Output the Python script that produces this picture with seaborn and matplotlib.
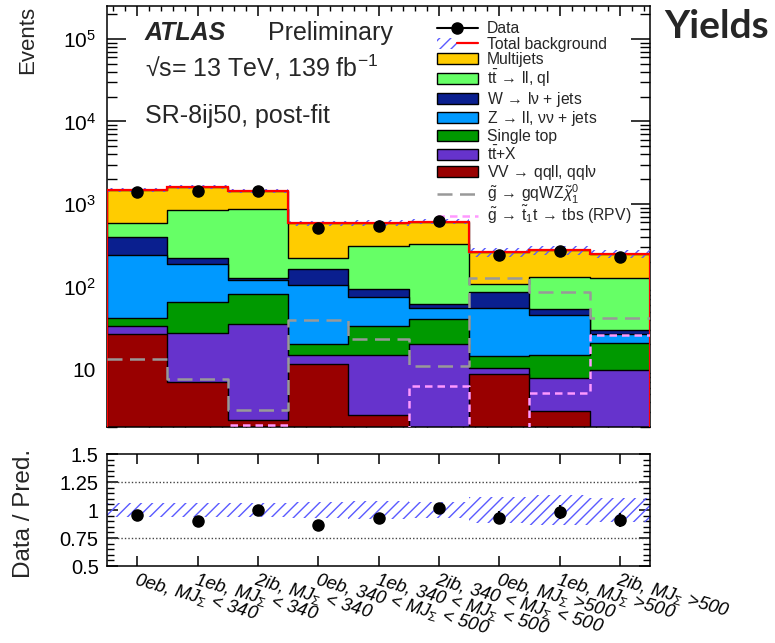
import numpy as np
import pandas as pd
import matplotlib
matplotlib.use("Agg")
import matplotlib.pyplot as plt
import seaborn as sns
from matplotlib.patches import Patch
from matplotlib.lines import Line2D
from matplotlib.ticker import FixedLocator, MultipleLocator, NullFormatter
from matplotlib.legend_handler import HandlerTuple

# ---------------- data ----------------
bin_labels = [
    r"0eb, MJ$_{\Sigma}$ < 340", r"1eb, MJ$_{\Sigma}$ < 340", r"2ib, MJ$_{\Sigma}$ < 340",
    r"0eb, 340 < MJ$_{\Sigma}$ < 500", r"1eb, 340 < MJ$_{\Sigma}$ < 500", r"2ib, 340 < MJ$_{\Sigma}$ < 500",
    r"0eb, MJ$_{\Sigma}$ >500", r"1eb, MJ$_{\Sigma}$ >500", r"2ib, MJ$_{\Sigma}$ >500",
]
vv_qqll = [27, 7.1, 2.45, 11.5, 2.8, 1.5, 8.7, 3.1, 1.2]
ttx = [6, 20.4, 32.5, 3.5, 12.2, 18.5, 1.6, 4.7, 8.5]
single_top = [9, 38.5, 47, 5, 18, 21, 4.1, 7.2, 11.3]
z_jets = [203, 124, 40, 85, 41, 14, 40.6, 31, 6]
w_jets = [151, 35, 7, 60, 21, 7, 30, 8, 3]
ttbar = [194, 625, 741, 60, 215, 263, 24, 78, 99]
multijets = [890, 770, 570, 365, 280, 285, 151, 143, 121]
data_obs = [1413, 1458, 1440, 513, 549, 622, 242, 270, 228]
bkg_rel_unc = [0.06, 0.06, 0.06, 0.07, 0.08, 0.07, 0.12, 0.13, 0.11]
sig_rpc = [13.2, 7.6, 3.2, 39, 23, 11, 129, 85, 42]
sig_rpv = [1.0, 1.0, 2.1, 1.0, 1.0, 6.2, 1.5, 5.2, 26]

process_names = ["VV", "ttX", "Single top", "Z", "W", "ttbar", "Multijets"]
process_values = [vv_qqll, ttx, single_top, z_jets, w_jets, ttbar, multijets]
process_colors = ["#990000", "#6633cc", "#009900", "#0099ff", "#0a1f8f", "#66ff66", "#ffcc00"]
ARR = r"$\,\rightarrow\,$"
legend_labels = {
    "Multijets": "Multijets",
    "ttbar": r"t$\mathrm{\bar{t}}$" + ARR + "ll, ql",
    "W": "W" + ARR + "lν + jets",
    "Z": "Z" + ARR + "ll, νν + jets",
    "Single top": "Single top",
    "ttX": r"t$\mathrm{\bar{t}}$+X",
    "VV": "VV" + ARR + "qqll, qqlν",
}

# ---------------- style ----------------
sns.set_theme(style="ticks")
plt.rcParams["font.family"] = ["Liberation Sans", "DejaVu Sans"]
plt.rcParams["mathtext.fontset"] = "custom"
plt.rcParams["mathtext.rm"] = "Liberation Sans"
plt.rcParams["mathtext.it"] = "Liberation Sans:italic"
plt.rcParams["mathtext.bf"] = "Liberation Sans:bold"
plt.rcParams["hatch.linewidth"] = 1.0

nb = len(data_obs)
x = np.arange(nb)
edges = np.arange(nb + 1) - 0.5
hist_kw = dict(binwidth=1, binrange=(-0.5, nb - 0.5), element="step")

df = pd.DataFrame({
    "bin": np.tile(x, len(process_names)).astype(float),
    "process": np.repeat(process_names, nb),
    "events": np.concatenate([np.asarray(v, float) for v in process_values]),
})
df["cum"] = df.groupby("bin")["events"].cumsum()
total = df.groupby("bin")["events"].sum().values
data_arr = np.asarray(data_obs, float)
unc = np.asarray(bkg_rel_unc)

W, H = 775, 643
fig = plt.figure(figsize=(W / 100, H / 100), dpi=100)
def rect(l, t, r, b):
    return [l / W, 1 - b / H, (r - l) / W, (b - t) / H]
ax = fig.add_axes(rect(107, 6, 650, 427))
axr = fig.add_axes(rect(107, 454, 650, 566))

# stacked backgrounds: draw cumulative from top layer down
for name, col in list(zip(process_names, process_colors))[::-1]:
    sub = df[df["process"] == name].reset_index(drop=True)
    sns.histplot(data=sub, x="bin", weights="cum", fill=True, color=col, alpha=1,
                 edgecolor="black", linewidth=1.0, ax=ax, **hist_kw)

# total background band + line
lo = total * (1 - unc)
hi = total * (1 + unc)
band_col = "#5a5aff"
ax.fill_between(edges, np.r_[lo, lo[-1]], np.r_[hi, hi[-1]], step="post",
                facecolor="none", edgecolor=band_col, hatch="///", linewidth=0, zorder=5)
ax.stairs(total, edges, color="red", linewidth=1.6, zorder=6)

# signals
sig_df = pd.DataFrame({"bin": x.astype(float), "rpc": sig_rpc, "rpv": sig_rpv})
sns.histplot(data=sig_df, x="bin", weights="rpc", fill=False, color="#999999",
             linewidth=1.8, linestyle=(0, (6, 3)), ax=ax, zorder=7, **hist_kw)
sns.histplot(data=sig_df, x="bin", weights="rpv", fill=False, color="#ff99ff",
             linewidth=1.8, linestyle=(0, (3, 2)), ax=ax, zorder=7, **hist_kw)

# data
ax.errorbar(x, data_arr, yerr=np.sqrt(data_arr), fmt="o", color="black",
            markersize=8, elinewidth=1.5, capsize=0, zorder=10)

ax.set_yscale("log")
ax.set_xlim(-0.5, nb - 0.5)
ax.set_ylim(2.0, 2.5e5)
ax.set_xlabel("")
ax.set_ylabel("Events", fontsize=16, loc="top")
ax.yaxis.set_label_coords(-0.127, 1.0)
ax.yaxis.set_major_locator(FixedLocator([10, 100, 1e3, 1e4, 1e5]))
ax.set_yticklabels(["10", r"10$^{2}$", r"10$^{3}$", r"10$^{4}$", r"10$^{5}$"])
minors = [m * 10 ** e for e in range(0, 6) for m in range(2, 10)]
ax.yaxis.set_minor_locator(FixedLocator(minors))
ax.yaxis.set_minor_formatter(NullFormatter())
ax.set_xticks(x)
ax.set_xticklabels([])
ax.xaxis.set_minor_locator(MultipleLocator(0.2))
ax.tick_params(axis="both", which="both", direction="in", top=True, right=True, colors="black")
ax.tick_params(axis="y", which="major", length=14, width=1.1, labelsize=15, pad=8)
ax.tick_params(axis="y", which="minor", length=7, width=1.0)
ax.tick_params(axis="x", which="major", length=7, width=1.1)
ax.tick_params(axis="x", which="minor", length=3.5, width=1.0)
for s in ax.spines.values():
    s.set_linewidth(1.1)
    s.set_color("black")

# text
ax.text(0.07, 0.936, "ATLAS", transform=ax.transAxes, fontsize=18,
        fontweight="bold", fontstyle="italic", va="center", ha="left")
ax.text(0.296, 0.936, "Preliminary", transform=ax.transAxes, fontsize=18, va="center", ha="left")
ax.text(0.07, 0.855, "√s= 13 TeV, 139 fb$^{\\mathrm{-1}}$", transform=ax.transAxes,
        fontsize=18, va="center", ha="left")
ax.text(0.07, 0.738, "SR-8ij50, post-fit", transform=ax.transAxes, fontsize=18, va="center", ha="left")

# legend (backgrounds + data)
handles = [
    Line2D([], [], color="black", marker="o", markersize=8, linewidth=1.5),
    (Patch(facecolor="none", edgecolor=band_col, hatch="///", linewidth=0),
     Line2D([], [], color="red", linewidth=1.6)),
]
labels = ["Data", "Total background"]
for name in ["Multijets", "ttbar", "W", "Z", "Single top", "ttX", "VV"]:
    col = process_colors[process_names.index(name)]
    handles.append(Patch(facecolor=col, edgecolor="black", linewidth=1.0))
    labels.append(legend_labels[name])
leg_kw = dict(loc="upper left", frameon=False, fontsize=11.3, handlelength=2.6,
              handletextpad=0.6, borderaxespad=0.3)
leg1 = ax.legend(handles, labels, bbox_to_anchor=(0.587, 0.99), labelspacing=0.04,
                 handler_map={tuple: HandlerTuple(ndivide=None, pad=0)}, **leg_kw)
ax.add_artist(leg1)

# legend (signals)
sig_handles = [
    Line2D([], [], color="#999999", linewidth=1.8, linestyle=(0, (6, 3))),
    Line2D([], [], color="#ff99ff", linewidth=1.8, linestyle=(0, (3, 2))),
]
sig_labels = [
    r"$\tilde{\mathrm{g}}$" + ARR + r"gqWZ$\tilde{\chi}^{0}_{1}$",
    r"$\tilde{\mathrm{g}}$" + ARR + r"$\tilde{\mathrm{t}}_{1}$t" + ARR + "tbs (RPV)",
]
ax.legend(sig_handles, sig_labels, bbox_to_anchor=(0.587, 0.607), labelspacing=-0.1, **leg_kw)

# ratio panel
ratio = data_arr / total
ratio_err = np.sqrt(data_arr) / total
axr.fill_between(edges, np.r_[1 - unc, 1 - unc[-1]], np.r_[1 + unc, 1 + unc[-1]], step="post",
                 facecolor="none", edgecolor=band_col, hatch="///", linewidth=0, zorder=2)
for yl in (0.75, 1.25):
    axr.axhline(yl, color="#444444", linestyle=(0, (1, 1.5)), linewidth=1.0, zorder=1)
axr.errorbar(x, ratio, yerr=ratio_err, fmt="o", color="black", markersize=8,
             elinewidth=1.5, capsize=0, zorder=10)
axr.set_xlim(-0.5, nb - 0.5)
axr.set_ylim(0.5, 1.5)
axr.set_yticks([0.5, 0.75, 1.0, 1.25, 1.5])
axr.set_yticklabels(["0.5", "0.75", "1", "1.25", "1.5"])
axr.yaxis.set_minor_locator(MultipleLocator(0.05))
axr.set_xticks(x)
axr.set_xticklabels(bin_labels, rotation=-16, ha="left", va="top", rotation_mode="anchor",
                    fontsize=13.3, fontstyle="italic")
axr.tick_params(axis="both", which="both", direction="in", top=True, right=True, colors="black")
axr.tick_params(axis="y", which="major", length=8, width=1.1, labelsize=14.5, pad=6)
axr.tick_params(axis="y", which="minor", length=5, width=1.0)
axr.tick_params(axis="x", which="major", length=7, width=1.1, pad=3)
axr.set_ylabel("Data / Pred.", fontsize=17.5)
axr.yaxis.set_label_coords(-0.133, 0.47)
for s in axr.spines.values():
    s.set_linewidth(1.1)
    s.set_color("black")

fig.text(664 / W, 1 - 9 / H, "Yields", fontsize=28, fontweight="bold",
         family=["Lato", "DejaVu Sans"], ha="left", va="top")

fig.savefig("out.png", dpi=100)
